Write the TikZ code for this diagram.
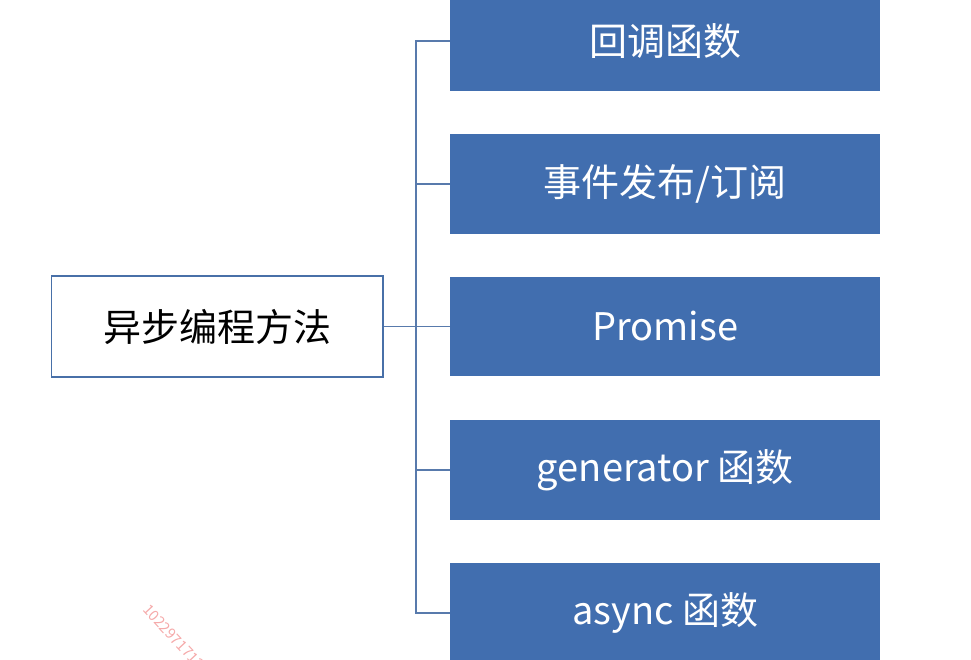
\documentclass[tikz,border=0pt]{standalone}
\usepackage{fontspec}
\setmainfont{Noto Sans CJK SC}
\definecolor{boxblue}{RGB}{65,110,175}
\definecolor{edgeblue}{RGB}{72,112,168}
\definecolor{linkblue}{RGB}{88,122,172}
\definecolor{wmred}{RGB}{245,170,170}
\begin{document}
\begin{tikzpicture}[x=0.75pt,y=-0.75pt,
  leaf/.style={draw=none,fill=boxblue,text=white,minimum width=322.5pt,minimum height=74.5pt,inner sep=0pt,font=\fontsize{28.5}{33}\selectfont,anchor=west},
  rootbox/.style={draw=edgeblue,line width=1.1pt,fill=white,text=black,minimum width=248.5pt,minimum height=75.5pt,inner sep=0pt,font=\fontsize{28.5}{33}\selectfont,anchor=west},
  link/.style={draw=linkblue,line width=1.2pt}]
\useasboundingbox (0,0) rectangle (971,660);
\begin{scope}
\clip (0,0) rectangle (971,660);
\node[leaf] (a) at (450,41) {回调函数};
\node[leaf] (b) at (450,184) {事件发布/订阅};
\node[leaf] (c) at (450,326.5) {Promise};
\node[leaf] (d) at (450,470) {generator 函数};
\node[leaf] (e) at (450,613) {async 函数};
\node[rootbox] (r) at (51,326.5) {异步编程方法};
\coordinate (j) at (416,326.5);
\draw[link] (r.east) -- (j);
\draw[link] (a.west) -| (j);
\draw[link] (b.west) -| (j);
\draw[link] (c.west) -- (j);
\draw[link] (d.west) -| (j);
\draw[link] (e.west) -| (j);
\node[text=wmred,rotate=-47,anchor=north west,inner sep=0pt,font=\fontsize{11}{13}\selectfont] (w) at (150,603) {1022971712};
\end{scope}
\end{tikzpicture}
\end{document}
